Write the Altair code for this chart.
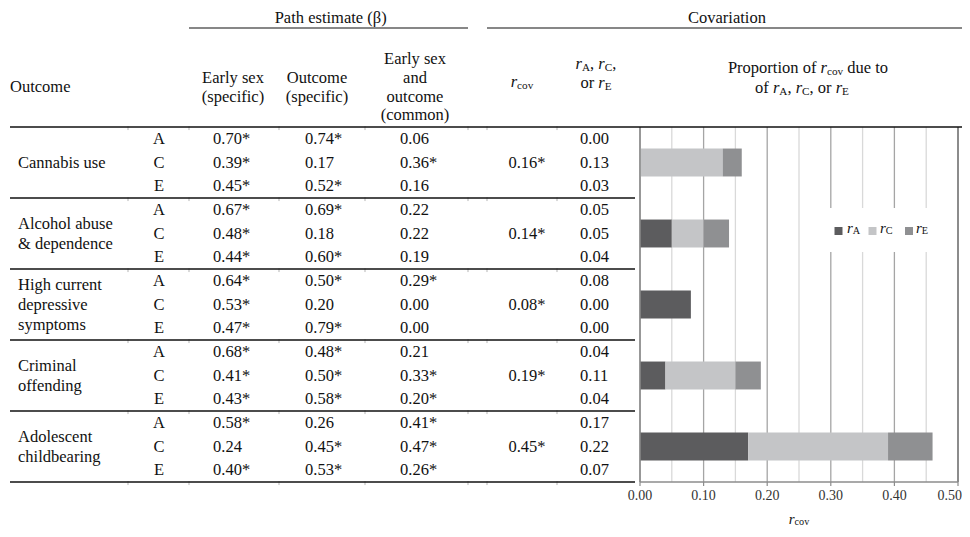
import altair as alt
import pandas as pd

# ---------------- data ----------------
outcome_lines = [["Cannabis use"], ["Alcohol abuse", "& dependence"],
                 ["High current", "depressive", "symptoms"],
                 ["Criminal", "offending"], ["Adolescent", "childbearing"]]
components = ["A", "C", "E"]
early_sex = ["0.70*", "0.39*", "0.45*", "0.67*", "0.48*", "0.44*", "0.64*", "0.53*", "0.47*",
             "0.68*", "0.41*", "0.43*", "0.58*", "0.24", "0.40*"]
outcome_spec = ["0.74*", "0.17", "0.52*", "0.69*", "0.18", "0.60*", "0.50*", "0.20", "0.79*",
                "0.48*", "0.50*", "0.58*", "0.26", "0.45*", "0.53*"]
common = ["0.06", "0.36*", "0.16", "0.22", "0.22", "0.19", "0.29*", "0.00", "0.00",
          "0.21", "0.33*", "0.20*", "0.41*", "0.47*", "0.26*"]
r_cov = ["0.16*", "0.14*", "0.08*", "0.19*", "0.45*"]
r_part = [0.00, 0.13, 0.03, 0.05, 0.05, 0.04, 0.08, 0.00, 0.00, 0.04, 0.11, 0.04, 0.17, 0.22, 0.07]
axis_ticks = [0.00, 0.05, 0.10, 0.15, 0.20, 0.25, 0.30, 0.35, 0.40, 0.45, 0.50]
colors = ["#5c5c5e", "#c4c5c7", "#8f9092"]

# ---------------- layout helpers ----------------
FONT = "Liberation Serif"
FS = 16.5
W, H = 954, 474
ROWPX = (482 - 127) / 15.0


def PX(x):
    return x - 8


def PY(y):
    return y - 8


rows = []
for gi in range(len(outcome_lines)):
    for ci, comp in enumerate(components):
        r = gi * 3 + ci
        rows.append(dict(g=gi, comp=comp, row=r + 0.5, es=early_sex[r], osp=outcome_spec[r],
                         com=common[r], rpart=r_part[r], rtxt=f"{r_part[r]:.2f}"))
df = pd.DataFrame(rows)
gdf = pd.DataFrame(dict(g=list(range(5)), rcov=r_cov, gc=[g * 3 + 1.5 for g in range(5)]))

name_rows = []
for gi, lines in enumerate(outcome_lines):
    n = len(lines)
    for i, t in enumerate(lines):
        name_rows.append(dict(text=t, y=gi * 3 + 1.5 + (i - (n - 1) / 2) * 20 / ROWPX))
name_df = pd.DataFrame(name_rows)

YS = alt.Scale(domain=[0, 15], range=[PY(127), PY(482)], nice=False, zero=False)
XS = alt.Scale(domain=[0, 0.5], range=[PX(640), PX(958)], nice=False, zero=False)
CS = alt.Scale(domain=components, range=colors)

# character widths (Times metrics, per 1000 em)
TW = {' ': 250, '(': 333, ')': 333, ',': 250, '.': 250, '*': 500, '&': 778, 'β': 549,
      'A': 722, 'C': 667, 'E': 611, 'P': 556, 'O': 722}
for ch in "0123456789":
    TW[ch] = 500
TW.update(dict(a=444, b=500, c=444, d=500, e=444, f=333, g=500, h=500, i=278, j=278, k=500,
               l=278, m=778, n=500, o=500, p=500, q=500, r=333, s=389, t=278, u=500, v=500,
               w=722, x=500, y=500, z=444))


def tw(s, size, italic=False):
    tot = 0
    for ch in s:
        if italic and ch == 'r':
            tot += 389
        else:
            tot += TW.get(ch, 500)
    return tot / 1000 * size


ann = []


def rich(segs, ax, y, align="center", size=FS, subr=0.68, subdy=0.22):
    sub = size * subr
    widths = []
    for t, st in segs:
        if st == 's':
            widths.append(tw(t, sub))
        else:
            widths.append(tw(t, size, st == 'i'))
    total = sum(widths)
    x = ax - total / 2 if align == "center" else ax
    for (t, st), w in zip(segs, widths):
        lead = len(t) - len(t.lstrip(' '))
        sz = sub if st == 's' else size
        xs = x + tw(' ' * lead, sz)
        tt = t.strip(' ')
        if st == 's':
            ann.append(dict(x=PX(xs), y=PY(y + size * subdy), text=tt, it=0, size=sub))
        else:
            ann.append(dict(x=PX(xs), y=PY(y), text=tt, it=1 if st == 'i' else 0, size=size))
        x += w


rich([("Path estimate (β)", 'n')], 331, 18)
rich([("Covariation", 'n')], 727, 18)
rich([("Outcome", 'n')], 10, 87, align="left")
rich([("Early sex", 'n')], 233, 78)
rich([("(specific)", 'n')], 233, 97)
rich([("Outcome", 'n')], 317, 78)
rich([("(specific)", 'n')], 317, 97)
rich([("Early sex", 'n')], 415, 59)
rich([("and", 'n')], 415, 78)
rich([("outcome", 'n')], 415, 97)
rich([("(common)", 'n')], 415, 115)
rich([("r", 'i'), ("cov", 's')], 522, 82)
rich([("r", 'i'), ("A", 's'), (", ", 'n'), ("r", 'i'), ("C", 's'), (",", 'n')], 596, 64)
rich([("or ", 'n'), ("r", 'i'), ("E", 's')], 596, 83)
rich([("Proportion of ", 'n'), ("r", 'i'), ("cov", 's'), (" due to", 'n')], 808, 68)
rich([("of ", 'n'), ("r", 'i'), ("A", 's'), (", ", 'n'), ("r", 'i'), ("C", 's'), (", or ", 'n'),
      ("r", 'i'), ("E", 's')], 802, 88)
rich([("r", 'i'), ("cov", 's')], 799, 519, size=15)
LEG_X = [847, 880, 916]
for comp, lx in zip(components, LEG_X):
    rich([("r", 'i'), (comp, 's')], lx, 228, align="left", size=15)

ann_df = pd.DataFrame(ann)


def ann_layer(d, style):
    return alt.Chart(d).mark_text(align="left", baseline="middle", font=FONT, fontStyle=style,
                                  color="#111").encode(
        x=alt.X("x:Q", scale=None, axis=None),
        y=alt.Y("y:Q", scale=None, axis=None),
        text="text:N",
        size=alt.Size("size:Q", scale=None, legend=None),
    )


ann_n = ann_layer(ann_df[ann_df.it == 0], "normal")
ann_i = ann_layer(ann_df[ann_df.it == 1], "italic")


# ---------------- table ----------------
def col_text(field, xpos, align="left"):
    return alt.Chart(df).mark_text(align=align, baseline="middle", font=FONT, fontSize=FS,
                                   color="#111").encode(
        x=alt.value(PX(xpos)),
        y=alt.Y("row:Q", scale=YS, axis=None),
        text=f"{field}:N",
    )


t_comp = col_text("comp", 159, align="center")
t_es = col_text("es", 213)
t_os = col_text("osp", 305)
t_com = col_text("com", 400)
t_rp = col_text("rtxt", 580)

t_rcov = alt.Chart(gdf).mark_text(align="center", baseline="middle", font=FONT, fontSize=FS,
                                  color="#111").encode(
    x=alt.value(PX(527)), y=alt.Y("gc:Q", scale=YS, axis=None), text="rcov:N")
t_name = alt.Chart(name_df).mark_text(align="left", baseline="middle", font=FONT, fontSize=FS,
                                      color="#111").encode(
    x=alt.value(PX(18)), y=alt.Y("y:Q", scale=YS, axis=None), text="text:N")

one = pd.DataFrame(dict(b=[0]))
sep = alt.Chart(pd.DataFrame(dict(b=[3, 6, 9, 12, 15]))).mark_rule(
    color="#111", strokeWidth=1.3).encode(
    y=alt.Y("b:Q", scale=YS, axis=None), x=alt.value(PX(10)), x2=alt.value(PX(635)))
top_line = alt.Chart(one).mark_rule(color="#111", strokeWidth=1.5).encode(
    y=alt.Y("b:Q", scale=YS, axis=None), x=alt.value(PX(10)), x2=alt.value(W))
h1 = alt.Chart(one).mark_rule(color="#111", strokeWidth=1.2).encode(
    y=alt.value(PY(28)), x=alt.value(PX(189)), x2=alt.value(PX(468)))
h2 = alt.Chart(one).mark_rule(color="#111", strokeWidth=1.2).encode(
    y=alt.value(PY(28)), x=alt.value(PX(487)), x2=alt.value(W))

# faint cell-border ticks on the table rules
CELL_X = [128, 189, 279, 365, 468, 487, 557]
cell_rows = []
for b in [0, 3, 6, 9, 12, 15]:
    for cx in CELL_X:
        cell_rows.append(dict(b0=b - 0.03, b1=b + 0.13, cx=PX(cx)))
cell_ticks = alt.Chart(pd.DataFrame(cell_rows)).mark_rule(color="#b5b5b5", strokeWidth=1).encode(
    x=alt.X("cx:Q", scale=None, axis=None),
    y=alt.Y("b0:Q", scale=YS, axis=None), y2="b1:Q")

# ---------------- chart: grid, axis, bars ----------------
tdf = pd.DataFrame(dict(v=axis_ticks, y0=0, y1=15))
tdf["major"] = [round(v * 100) % 10 == 0 for v in axis_ticks]
tdf["lab"] = [f"{v:.2f}" for v in axis_ticks]
major_df = tdf[tdf.major]
minor_df = tdf[~tdf.major]

grid_minor = alt.Chart(minor_df).mark_rule(color="#d9d9d9", strokeWidth=1.3).encode(
    x=alt.X("v:Q", scale=XS, axis=None), y=alt.Y("y0:Q", scale=YS, axis=None), y2="y1:Q")
grid_major = alt.Chart(major_df).mark_rule(color="#a5a5a5", strokeWidth=1.3).encode(
    x=alt.X("v:Q", scale=XS, axis=None), y=alt.Y("y0:Q", scale=YS, axis=None), y2="y1:Q")
ticks = alt.Chart(major_df).mark_rule(color="#8c8c8c", strokeWidth=1.2).encode(
    x=alt.X("v:Q", scale=XS, axis=None), y=alt.value(PY(482)), y2=alt.value(PY(486)))
tick_labels = alt.Chart(major_df[major_df.v < 0.45]).mark_text(
    align="center", baseline="middle", font=FONT, fontSize=14, color="#333").encode(
    x=alt.X("v:Q", scale=XS, axis=None), y=alt.value(PY(496)), text="lab:N")
tick_label_last = alt.Chart(major_df[major_df.v > 0.45]).mark_text(
    align="right", baseline="middle", font=FONT, fontSize=14, color="#333", dx=4).encode(
    x=alt.X("v:Q", scale=XS, axis=None), y=alt.value(PY(496)), text="lab:N")

bars = alt.Chart(df).transform_stack(
    stack="rpart", groupby=["g"], as_=["x0", "x1"],
    sort=[alt.SortField("comp", order="ascending")],
).transform_calculate(
    ylo="datum.g*3+1.5-0.59", yhi="datum.g*3+1.5+0.59"
).mark_bar().encode(
    x=alt.X("x0:Q", scale=XS, axis=None),
    x2="x1:Q",
    y=alt.Y("ylo:Q", scale=YS, axis=None),
    y2="yhi:Q",
    color=alt.Color("comp:N", scale=CS, legend=None),
)

edges = pd.DataFrame(dict(v=[0.0, 0.5], y0=[0, 0], y1=[15, 15]))
left_edge = alt.Chart(edges[edges.v == 0]).mark_rule(color="#8a8a8a", strokeWidth=1.5).encode(
    x=alt.X("v:Q", scale=XS, axis=None), y=alt.Y("y0:Q", scale=YS, axis=None), y2="y1:Q")
right_edge = alt.Chart(edges[edges.v == 0.5]).mark_rule(color="#7a7a7a", strokeWidth=1.5).encode(
    x=alt.X("v:Q", scale=XS, axis=None), y=alt.Y("y0:Q", scale=YS, axis=None), y2="y1:Q")
bottom_edge = alt.Chart(pd.DataFrame(dict(a=[0.0], b=[0.5], y=[15]))).mark_rule(
    color="#8c8c8c", strokeWidth=1.5).encode(
    x=alt.X("a:Q", scale=XS, axis=None), x2="b:Q", y=alt.Y("y:Q", scale=YS, axis=None))

leg_box = alt.Chart(one).mark_rect(color="white").encode(
    x=alt.value(PX(828)), x2=alt.value(PX(935)), y=alt.value(PY(208)), y2=alt.value(PY(252)))
leg_sq = alt.Chart(pd.DataFrame(dict(comp=components, lx=[PX(v) for v in [838.5, 872.5, 909]]))
                   ).mark_square(size=64, opacity=1).encode(
    x=alt.X("lx:Q", scale=None, axis=None), y=alt.value(PY(231)),
    color=alt.Color("comp:N", scale=CS, legend=None))

chart = alt.layer(
    grid_minor, grid_major, bars, left_edge, right_edge, bottom_edge, ticks,
    tick_labels, tick_label_last,
    leg_box, leg_sq,
    cell_ticks, sep, top_line, h1, h2,
    t_name, t_comp, t_es, t_os, t_com, t_rcov, t_rp,
    ann_n, ann_i,
).properties(
    width=W, height=H,
    autosize=alt.AutoSizeParams(type="none"),
    padding={"left": 0, "top": 0, "right": 0, "bottom": 47},
    background="white",
).configure_view(stroke=None)

chart.save("out.html", embed_options={"renderer": "svg", "actions": False})
